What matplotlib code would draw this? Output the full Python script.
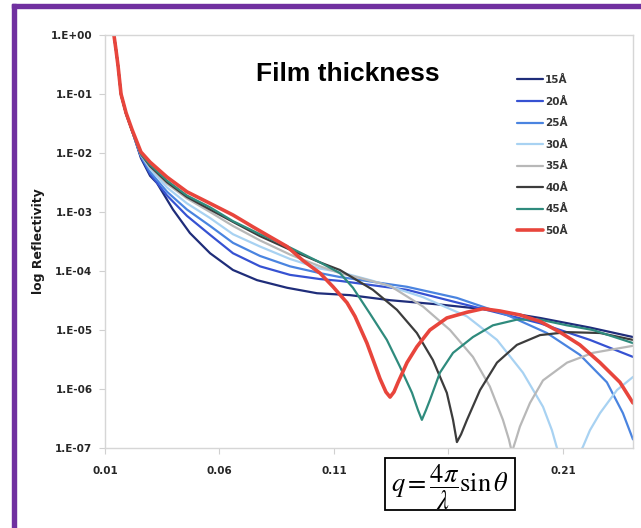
import numpy as np
import matplotlib
matplotlib.use('Agg')
import matplotlib.pyplot as plt
from matplotlib.patches import Rectangle
from matplotlib.ticker import FuncFormatter

plt.rcParams['font.family'] = ['Liberation Sans', 'DejaVu Sans']
plt.rcParams['mathtext.fontset'] = 'stix'

# reflectivity curves, q in 1/A, R linear
q_15 = [0.0139, 0.0148, 0.0157, 0.0170, 0.0192, 0.0218, 0.0257, 0.0297, 0.0327, 0.0397, 0.0471,
        0.0559, 0.0659, 0.0764, 0.0895, 0.1026, 0.1170, 0.1345, 0.1563, 0.1781, 0.2000, 0.2218, 0.2406]
r_15 = [1.0, 0.56, 0.30, 0.10, 0.047, 0.024, 0.0082, 0.0041, 0.0031, 0.0011, 4.4e-4,
        2.0e-4, 1.04e-4, 7.0e-5, 5.2e-5, 4.2e-5, 3.9e-5, 3.2e-5, 2.7e-5, 2.2e-5, 1.6e-5, 1.1e-5, 7.6e-6]

q_20 = [0.0139, 0.0148, 0.0157, 0.0170, 0.0192, 0.0218, 0.0257, 0.0297, 0.0371, 0.0458, 0.0559,
        0.0659, 0.0777, 0.0908, 0.1039, 0.1126, 0.1419, 0.1707, 0.2000, 0.2218, 0.2406]
r_20 = [1.0, 0.56, 0.30, 0.10, 0.047, 0.024, 0.0086, 0.0044, 0.0019, 8.6e-4, 4.1e-4,
        2.0e-4, 1.2e-4, 8.6e-5, 7.3e-5, 6.8e-5, 4.8e-5, 2.5e-5, 1.3e-5, 6.8e-6, 3.5e-6]

q_25 = [0.0139, 0.0148, 0.0157, 0.0170, 0.0192, 0.0218, 0.0257, 0.0297, 0.0371, 0.0458, 0.0559,
        0.0659, 0.0777, 0.0908, 0.1039, 0.1126, 0.1419, 0.1637, 0.1855, 0.2030, 0.2174, 0.2292,
        0.2362, 0.2406]
r_25 = [1.0, 0.56, 0.30, 0.10, 0.047, 0.024, 0.0089, 0.0048, 0.0022, 0.0011, 5.8e-4,
        3.0e-4, 1.8e-4, 1.2e-4, 9.2e-5, 7.9e-5, 5.4e-5, 3.5e-5, 1.8e-5, 8.9e-6, 3.8e-6, 1.3e-6,
        3.9e-7, 1.4e-7]

q_30 = [0.0139, 0.0148, 0.0157, 0.0170, 0.0192, 0.0218, 0.0257, 0.0297, 0.0371, 0.0458, 0.0559,
        0.0659, 0.0777, 0.0908, 0.1039, 0.1126, 0.1270, 0.1489, 0.1681, 0.1812, 0.1925, 0.2013,
        0.2052, 0.2074, 0.2131, 0.2187, 0.2218, 0.2262, 0.2336, 0.2406]
r_30 = [1.0, 0.56, 0.30, 0.10, 0.047, 0.024, 0.0093, 0.0054, 0.0026, 0.0014, 7.9e-4,
        4.2e-4, 2.6e-4, 1.6e-4, 1.1e-4, 9.6e-5, 6.8e-5, 3.6e-5, 1.7e-5, 6.8e-6, 1.9e-6, 5.0e-7,
        2.0e-7, 1.0e-7, 4.5e-8, 1.04e-7, 2.0e-7, 3.9e-7, 9.6e-7, 1.6e-6]

q_35 = [0.0139, 0.0148, 0.0157, 0.0170, 0.0192, 0.0218, 0.0257, 0.0297, 0.0371, 0.0458, 0.0559,
        0.0659, 0.0777, 0.0908, 0.1039, 0.1126, 0.1214, 0.1345, 0.1489, 0.1607, 0.1707, 0.1781,
        0.1838, 0.1864, 0.1877, 0.1895, 0.1912, 0.1956, 0.2013, 0.2118, 0.2231, 0.2406]
r_35 = [1.0, 0.56, 0.30, 0.10, 0.047, 0.024, 0.0094, 0.0058, 0.0030, 0.0017, 0.0010,
        5.8e-4, 3.3e-4, 1.9e-4, 1.2e-4, 9.2e-5, 7.6e-5, 5.6e-5, 2.5e-5, 1.0e-5, 3.5e-6, 1.1e-6,
        3.0e-7, 1.4e-7, 8.5e-8, 1.4e-7, 2.3e-7, 5.8e-7, 1.4e-6, 2.8e-6, 4.1e-6, 5.4e-6]

q_40 = [0.0139, 0.0148, 0.0157, 0.0170, 0.0192, 0.0218, 0.0257, 0.0297, 0.0371, 0.0458, 0.0559,
        0.0659, 0.0777, 0.0908, 0.1039, 0.1126, 0.1270, 0.1375, 0.1462, 0.1532, 0.1593, 0.1620,
        0.1637, 0.1655, 0.1681, 0.1738, 0.1812, 0.1899, 0.2000, 0.2118, 0.2262, 0.2406]
r_40 = [1.0, 0.56, 0.30, 0.096, 0.046, 0.024, 0.0096, 0.0060, 0.0032, 0.0018, 0.0011,
        6.8e-4, 3.9e-4, 2.3e-4, 1.4e-4, 1.04e-4, 4.8e-5, 2.2e-5, 8.9e-6, 3.1e-6, 8.6e-7, 3.0e-7,
        1.26e-7, 1.7e-7, 3.0e-7, 9.6e-7, 2.8e-6, 5.6e-6, 8.2e-6, 9.2e-6, 8.9e-6, 6.8e-6]

q_45 = [0.0139, 0.0148, 0.0157, 0.0170, 0.0192, 0.0218, 0.0257, 0.0297, 0.0371, 0.0458, 0.0559,
        0.0659, 0.0777, 0.0908, 0.1039, 0.1126, 0.1183, 0.1257, 0.1331, 0.1388, 0.1441, 0.1467,
        0.1484, 0.1502, 0.1519, 0.1563, 0.1620, 0.1707, 0.1794, 0.1899, 0.2000, 0.2118, 0.2231,
        0.2406]
r_45 = [1.0, 0.56, 0.30, 0.096, 0.046, 0.024, 0.0096, 0.0063, 0.0034, 0.0019, 0.0012,
        7.0e-4, 4.2e-4, 2.5e-4, 1.4e-4, 9.2e-5, 5.2e-5, 1.9e-5, 6.8e-6, 2.4e-6, 8.6e-7, 4.4e-7,
        3.0e-7, 4.4e-7, 6.5e-7, 1.9e-6, 4.1e-6, 7.6e-6, 1.2e-5, 1.5e-5, 1.5e-5, 1.2e-5, 1.0e-5,
        6.0e-6]

q_50 = [0.0139, 0.0148, 0.0157, 0.0170, 0.0192, 0.0218, 0.0257, 0.0297, 0.0371, 0.0458, 0.0559,
        0.0659, 0.0746, 0.0821, 0.0895, 0.0965, 0.1039, 0.1096, 0.1157, 0.1192, 0.1244, 0.1301,
        0.1327, 0.1345, 0.1362, 0.1380, 0.1419, 0.1462, 0.1519, 0.1593, 0.1681, 0.1751, 0.1825,
        0.1912, 0.2000, 0.2087, 0.2174, 0.2262, 0.2349, 0.2406]
r_50 = [1.0, 0.56, 0.30, 0.10, 0.048, 0.025, 0.0104, 0.0070, 0.0039, 0.0022, 0.0014,
        8.9e-4, 5.6e-4, 3.8e-4, 2.6e-4, 1.5e-4, 9.2e-5, 5.4e-5, 2.9e-5, 1.7e-5, 6.0e-6, 1.5e-6,
        8.9e-7, 7.3e-7, 8.9e-7, 1.3e-6, 2.8e-6, 5.2e-6, 1.0e-5, 1.6e-5, 2.0e-5, 2.3e-5, 2.1e-5,
        1.8e-5, 1.4e-5, 9.2e-6, 5.6e-6, 2.8e-6, 1.3e-6, 5.8e-7]

labels = ['15Å', '20Å', '25Å', '30Å', '35Å', '40Å', '45Å', '50Å']
colors = ['#1f2d7a', '#3652d2', '#4a84e0', '#a8d2f2', '#b8b8b8', '#3c3c3c', '#2f8b7d', '#e8453c']
series = [(q_15, r_15), (q_20, r_20), (q_25, r_25), (q_30, r_30),
          (q_35, r_35), (q_40, r_40), (q_45, r_45), (q_50, r_50)]

x_ticks = [0.01, 0.06, 0.11, 0.16, 0.21]
x_labels = ['0.01', '0.06', '0.11', '', '0.21']   # 0.16 sits under the formula box
y_ticks = [1e0, 1e-1, 1e-2, 1e-3, 1e-4, 1e-5, 1e-6, 1e-7]

small = dict(family=['DejaVu Sans'], fontweight='bold')

fig = plt.figure(figsize=(6.41, 5.28), dpi=100)
ax = fig.add_axes([0.1638, 0.1515, 0.8237, 0.7822])

for (q, r), lab, c in zip(series, labels, colors):
    lw = 2.6 if lab == '50Å' else 1.6
    ax.plot(q, r, color=c, lw=lw, label=lab, solid_capstyle='round')

ax.set_yscale('log')
ax.set_xlim(0.01, 0.2406)
ax.set_ylim(1e-7, 1.0)
ax.set_xticks(x_ticks)
ax.set_xticklabels(x_labels)
ax.set_yticks(y_ticks)
ax.yaxis.set_major_formatter(FuncFormatter(lambda v, p: f'1.E{int(round(np.log10(v))):+03d}'))
ax.minorticks_off()
ax.tick_params(axis='both', length=4, color='#d0d0d0', labelsize=7.5, labelcolor='#262626')
ax.tick_params(axis='x', pad=9)
ax.tick_params(axis='y', pad=5)
for lbl in ax.get_xticklabels() + ax.get_yticklabels():
    lbl.set_fontfamily(['DejaVu Sans'])
    lbl.set_fontweight('bold')
for s in ax.spines.values():
    s.set_color('#d6d6d6')
    s.set_linewidth(1.0)

ax.set_ylabel('log Reflectivity', fontsize=9, labelpad=4, color='#1a1a1a', **small)
ax.text(0.46, 0.905, 'Film thickness', transform=ax.transAxes, ha='center', va='center',
        fontsize=19, fontweight='bold')

leg = ax.legend(loc='upper left', bbox_to_anchor=(517 / 641, 1 - 75 / 528),
                bbox_transform=fig.transFigure, frameon=False,
                prop=dict(family=['DejaVu Sans'], weight='bold', size=7.5),
                handlelength=2.5, handletextpad=0.2, labelspacing=1.1, borderpad=0,
                borderaxespad=0)
for t in leg.get_texts():
    t.set_color('#333333')

# formula box over the x axis labels
fig.add_artist(Rectangle((385 / 641, 1 - 510 / 528), 130 / 641, 52 / 528,
                         transform=fig.transFigure, facecolor='white', edgecolor='black',
                         lw=1.3, zorder=9))
fig.text(450 / 641, 1 - 487 / 528, r'$q=\dfrac{4\pi}{\lambda}\sin\theta$', ha='center', va='center',
         fontsize=19, zorder=10)

# purple frame on the top and left edges
fig.patches.append(Rectangle((12 / 641, 0), 4 / 641, 1 - 4 / 528, transform=fig.transFigure,
                             color='#7030a0', zorder=20))
fig.patches.append(Rectangle((12 / 641, 1 - 7.5 / 528), 1 - 12 / 641, 3.5 / 528,
                             transform=fig.transFigure, color='#7030a0', zorder=20))

fig.savefig('out.png', dpi=100)
